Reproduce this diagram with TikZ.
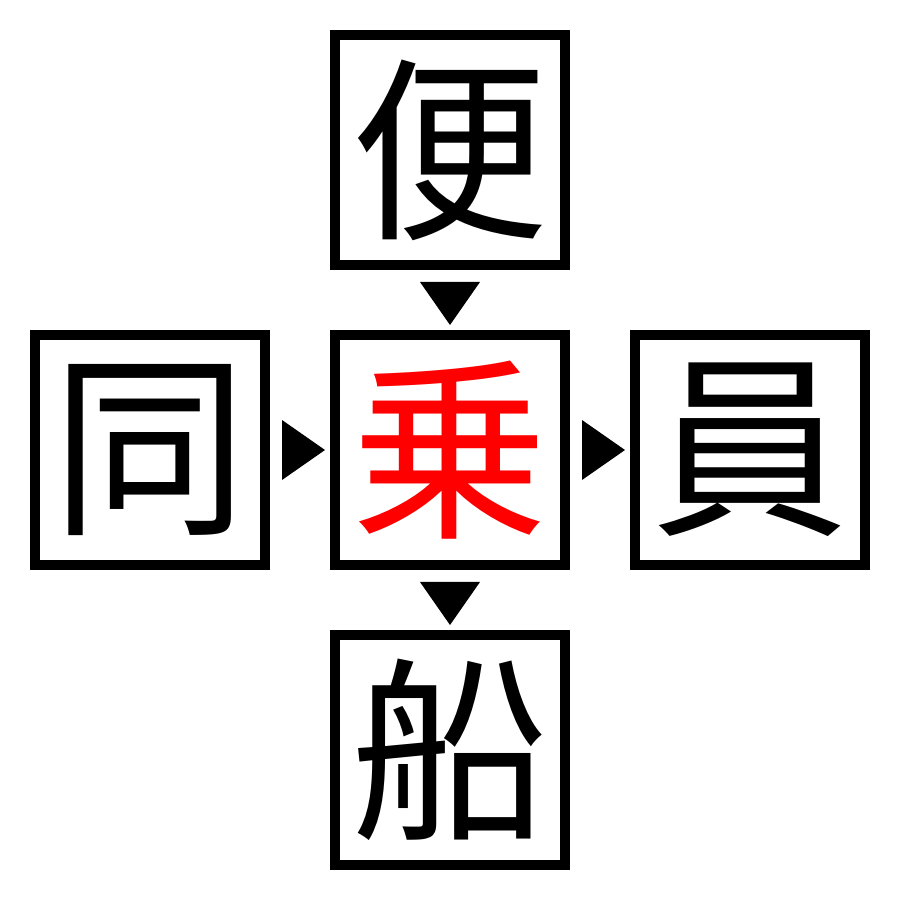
\documentclass[tikz,border=0pt]{standalone}
\usepackage{fontspec}
\newfontfamily\cjk{Noto Sans CJK JP}
\usetikzlibrary{positioning}
\tikzset{
    cell/.style = {rectangle, line width=0.1cm, draw=black, minimum size=2.3cm, inner sep=0pt, font=\cjk\fontsize{56}{56}\selectfont},
    cellr/.style = {cell, text=red},
    marker/.style = {fill=black}
}
\begin{document}
\begin{tikzpicture}
  \useasboundingbox (0,0) rectangle (9,9);
  \node[cellr] (jou) at (4.5,4.5) {乗};
  \node[cell] (bin) at (4.5,7.5) {便};
  \node[cell] (dou) at (1.5,4.5) {同};
  \node[cell] (in)  at (7.5,4.5) {員};
  \node[cell] (sen) at (4.5,1.5) {船};

  % markers between the cells
  \fill[marker] (4.2,6.18) -- (4.8,6.18) -- (4.5,5.75) -- cycle;
  \fill[marker] (2.82,4.8) -- (2.82,4.2) -- (3.25,4.5) -- cycle;
  \fill[marker] (5.82,4.8) -- (5.82,4.2) -- (6.25,4.5) -- cycle;
  \fill[marker] (4.2,3.18) -- (4.8,3.18) -- (4.5,2.75) -- cycle;
\end{tikzpicture}
\end{document}
